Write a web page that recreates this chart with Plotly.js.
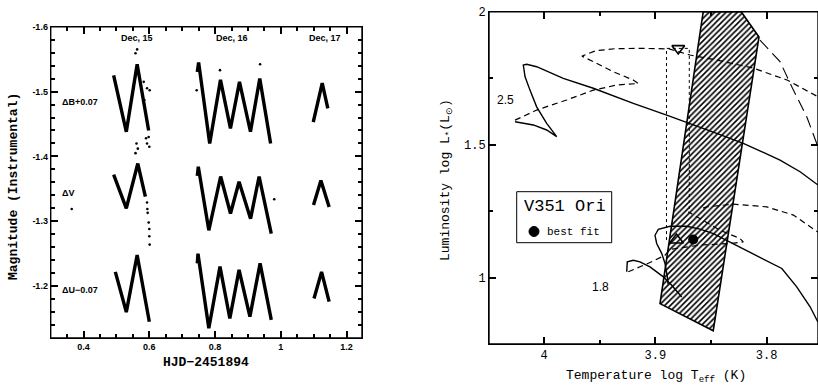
<!DOCTYPE html>
<html>
<head>
<meta charset="utf-8">
<script src="https://cdn.plot.ly/plotly-3.0.1.min.js"></script>
<style>html,body{margin:0;padding:0;background:#fff;}#chart{width:818px;height:387px;}</style>
</head>
<body>
<div id="chart"></div>
<script>
// ---------- Left panel: light curves (HJD-2451894 vs instrumental magnitude) ----------
const bandLabels = ["ΔB+0.07", "ΔV", "ΔU−0.07"];
const bandLabelY = [-1.484, -1.344, -1.194];
const nightLabels = ["Dec, 15", "Dec, 16", "Dec, 17"];
const nightLabelX = [0.563, 0.852, 1.134];
const hjdTicks = [0.4, 0.6, 0.8, 1, 1.2];
const hjdTickText = ["0.4", "0.6", "0.8", "1", "1.2"];
const magTicks = [-1.6, -1.5, -1.4, -1.3, -1.2];
const magTickText = ["-1.6", "-1.5", "-1.4", "-1.3", "-1.2"];

const hjdB = [0.4915, 0.530, 0.563, 0.598, null,
              0.746, 0.750, 0.7837, 0.8165, 0.8468, 0.8743, 0.9077, 0.936, 0.969, null,
              1.0987, 1.126, 1.143];
const magB = [-1.525, -1.438, -1.542, -1.440, null,
              -1.530, -1.545, -1.420, -1.518, -1.443, -1.515, -1.438, -1.520, -1.420, null,
              -1.453, -1.513, -1.474];

const hjdV = [0.4915, 0.530, 0.565, 0.588, null,
              0.746, 0.749, 0.781, 0.817, 0.847, 0.873, 0.908, 0.934, 0.971, null,
              1.0995, 1.122, 1.147];
const magV = [-1.372, -1.320, -1.389, -1.338, null,
              -1.370, -1.384, -1.286, -1.369, -1.312, -1.361, -1.304, -1.369, -1.281, null,
              -1.325, -1.363, -1.322];

const hjdU = [0.4966, 0.530, 0.563, 0.600, null,
              0.746, 0.748, 0.781, 0.815, 0.845, 0.873, 0.906, 0.937, 0.971, null,
              1.101, 1.124, 1.147];
const magU = [-1.222, -1.160, -1.248, -1.145, null,
              -1.235, -1.250, -1.135, -1.230, -1.150, -1.225, -1.153, -1.235, -1.148, null,
              -1.181, -1.222, -1.176];

// stray / scattered observations
const hjdStray = [0.563, 0.558, 0.583, 0.585, 0.593, 0.601, 0.598, 0.590, 0.593, 0.600,
                  0.561, 0.565, 0.558, 0.593, 0.595, 0.598, 0.600, 0.600, 0.601, 0.594,
                  0.364, 0.980, 0.937, 0.815, 0.744];
const magStray = [-1.565, -1.559, -1.515, -1.487, -1.505, -1.502, -1.430, -1.428, -1.420, -1.415,
                  -1.420, -1.412, -1.405, -1.329, -1.313, -1.298, -1.288, -1.277, -1.264, -1.319,
                  -1.319, -1.334, -1.542, -1.533, -1.502];

// ---------- Right panel: HR diagram ----------
const stripT = [3.857, 3.8229, 3.8069, 3.848, 3.8958, 3.857];
const stripL = [2.0, 2.0, 1.905, 0.800, 0.902, 2.0];

const solid25T = [4.026, 4.0096, 3.9976, 3.9886, 3.9976, 4.0066, 4.0126, 4.017, 4.0186, 4.0155, 4.0066,
                  3.9946, 3.9827, 3.9557, 3.9198, 3.8898, 3.8704, 3.8449, 3.821, 3.788, 3.770, 3.7539];
const solid25L = [1.586, 1.574, 1.555, 1.530, 1.580, 1.642, 1.705, 1.755, 1.799, 1.802, 1.793,
                  1.770, 1.749, 1.712, 1.655, 1.611, 1.580, 1.542, 1.505, 1.442, 1.398, 1.348];

const dash25T = [4.026, 4.0066, 3.9796, 3.9557, 3.9347, 3.9153, 3.9198, 3.9378, 3.9557, 3.9659,
                 3.9536, 3.9356, 3.9117, 3.8877, 3.8689, 3.8446, 3.8123, 3.7817, 3.7539];
const dash25L = [1.592, 1.630, 1.668, 1.705, 1.724, 1.730, 1.743, 1.774, 1.812, 1.833,
                 1.853, 1.861, 1.862, 1.860, 1.837, 1.818, 1.788, 1.743, 1.680];

const longDashT = [3.806, 3.788, 3.776, 3.764, 3.7545];
const longDashL = [1.893, 1.812, 1.705, 1.605, 1.498];

const solid18aT = [3.9257, 3.9252, 3.9198, 3.9138, 3.9048, 3.8928, 3.8853, 3.8763];
const solid18aL = [1.0215, 1.059, 1.065, 1.059, 1.040, 1.0025, 0.971, 0.927];

const solid18bT = [3.8886, 3.8892, 3.8913, 3.8943, 3.8988, 3.9003, 3.8973, 3.8868, 3.8718, 3.8599,
                   3.8479, 3.8299, 3.8059, 3.7864, 3.773, 3.761, 3.7539];
const solid18bL = [0.975, 1.0025, 1.053, 1.091, 1.128, 1.159, 1.181, 1.193, 1.193, 1.182,
                   1.165, 1.126, 1.077, 1.034, 0.965, 0.890, 0.832];

const dash18aT = [3.9243, 3.9138, 3.9018, 3.8913, 3.8868, 3.8599, 3.8329, 3.821, 3.824, 3.842, 3.8599, 3.8704];
const dash18aL = [1.0215, 1.040, 1.062, 1.084, 1.106, 1.122, 1.128, 1.134, 1.147, 1.178, 1.222, 1.247];

const dash18bT = [3.8572, 3.8539, 3.8299, 3.800, 3.776, 3.761, 3.754];
const dash18bL = [1.261, 1.266, 1.276, 1.266, 1.235, 1.191, 1.171];

const boxLeftT = [3.890, 3.890, 3.8695, 3.8695];
const boxLeftL = [1.141, 1.862, 1.862, 1.247];

const upperT = [3.8794], upperL = [1.862];
const lowerT = [3.881],  lowerL = [1.141];
const bestT  = [3.866],  bestL  = [1.143];

const massLabels = ["2.5", "1.8"];
const massLabelT = [4.0346, 3.949];
const massLabelL = [1.668, 0.965];
const starName = "V351 Ori";
const bestLabel = "best fit";

// ---------- traces ----------
const lc = (x, y) => ({x, y, xaxis: 'x', yaxis: 'y', mode: 'lines', type: 'scatter',
  line: {color: '#000', width: 3.4}, connectgaps: false});
const tr = (x, y, dash, w) => ({x, y, xaxis: 'x2', yaxis: 'y2', mode: 'lines', type: 'scatter',
  line: {color: '#000', width: w || 1.3, dash: dash}});

const traces = [
  lc(hjdB, magB), lc(hjdV, magV), lc(hjdU, magU),
  {x: hjdStray, y: magStray, xaxis: 'x', yaxis: 'y', mode: 'markers', type: 'scatter',
   marker: {color: '#000', size: 2.6}},
  {x: stripT, y: stripL, xaxis: 'x2', yaxis: 'y2', mode: 'lines', type: 'scatter', fill: 'toself',
   fillcolor: 'rgba(0,0,0,0)',
   fillpattern: {shape: '/', size: 4, solidity: 0.4, fgcolor: '#000', bgcolor: '#fff'},
   line: {color: '#000', width: 1.6}},
  tr(solid25T, solid25L, 'solid', 1.4),
  tr(dash25T, dash25L, '6px,4px', 1.2),
  tr(longDashT, longDashL, '12px,6px', 1.1),
  tr(solid18aT, solid18aL, 'solid', 1.4),
  tr(solid18bT, solid18bL, 'solid', 1.4),
  tr(dash18aT, dash18aL, '6px,4px', 1.2),
  tr(dash18bT, dash18bL, '6px,4px', 1.2),
  tr(boxLeftT, boxLeftL, 'dot', 1),
  {x: upperT, y: upperL, xaxis: 'x2', yaxis: 'y2', mode: 'markers', type: 'scatter',
   marker: {symbol: 'triangle-down-open', size: 11, color: '#000', line: {width: 1.6, color: '#000'}}},
  {x: lowerT, y: lowerL, xaxis: 'x2', yaxis: 'y2', mode: 'markers', type: 'scatter',
   marker: {symbol: 'triangle-up-open', size: 12, color: '#000', line: {width: 1.6, color: '#000'}}},
  {x: bestT, y: bestL, xaxis: 'x2', yaxis: 'y2', mode: 'markers', type: 'scatter', name: bestLabel,
   marker: {symbol: 'circle', size: 10, color: '#000'}}
];

// ---------- annotations ----------
const ann = [];
nightLabels.forEach((t, i) => ann.push({text: '<b>' + t + '</b>', x: nightLabelX[i], y: -1.583, xref: 'x', yref: 'y',
  xanchor: 'center', yanchor: 'middle',
  showarrow: false, font: {family: 'Liberation Sans', size: 9, color: '#000'}}));
bandLabels.forEach((t, i) => ann.push({text: '<b>' + t + '</b>', x: 0.329, y: bandLabelY[i], xref: 'x', yref: 'y',
  xanchor: 'left', yanchor: 'middle', showarrow: false,
  font: {family: 'Liberation Sans', size: 9, color: '#000'}}));
massLabels.forEach((t, i) => ann.push({text: t, x: massLabelT[i], y: massLabelL[i], xref: 'x2', yref: 'y2',
  xanchor: 'center', yanchor: 'middle',
  showarrow: false, font: {family: 'Liberation Sans', size: 12, color: '#000'}}));
// legend box texts
ann.push({text: starName, x: 564.5 / 818, y: 1 - 206 / 387, xref: 'paper', yref: 'paper',
  xanchor: 'center', yanchor: 'middle', showarrow: false,
  font: {family: 'Liberation Mono', size: 17, color: '#000'}});
ann.push({text: bestLabel, x: 545 / 818, y: 1 - 231.5 / 387, xref: 'paper', yref: 'paper',
  xanchor: 'left', yanchor: 'middle', showarrow: false,
  font: {family: 'Liberation Mono', size: 11, color: '#000'}});
// axis titles
ann.push({text: '<b>Magnitude (Instrumental)</b>', x: 13 / 818, y: 1 - 187 / 387, xref: 'paper', yref: 'paper',
  xanchor: 'center', yanchor: 'middle',
  textangle: -90, showarrow: false, font: {family: 'Liberation Mono', size: 13, color: '#000'}});
ann.push({text: '<b>HJD−2451894</b>', x: 206 / 818, y: 1 - 362 / 387, xref: 'paper', yref: 'paper',
  xanchor: 'center', yanchor: 'middle',
  showarrow: false, font: {family: 'Liberation Mono', size: 13, color: '#000'}});
ann.push({text: 'Temperature log T<sub>eff</sub> (K)', x: 656 / 818, y: 1 - 376 / 387, xref: 'paper', yref: 'paper',
  xanchor: 'center', yanchor: 'middle',
  showarrow: false, font: {family: 'Liberation Mono', size: 13, color: '#000'}});
ann.push({text: 'Luminosity log L<sub>*</sub>(L<sub>⊙</sub>)', x: 447 / 818, y: 1 - 180 / 387, xref: 'paper', yref: 'paper',
  xanchor: 'center', yanchor: 'middle',
  textangle: -90, showarrow: false, font: {family: 'Liberation Mono', size: 13, color: '#000'}});

// panel frames and the legend box
const frame = (xr, yr) => ({type: 'rect', xref: xr + ' domain', yref: yr + ' domain', x0: 0, x1: 1, y0: 0, y1: 1,
  line: {color: '#000', width: 1.4}, fillcolor: 'rgba(0,0,0,0)', layer: 'above'});
const shapes = [frame('x', 'y'), frame('x2', 'y2'),
  {type: 'rect', xref: 'paper', yref: 'paper', x0: 516.7 / 818, x1: 611.7 / 818, y0: 1 - 242.7 / 387, y1: 1 - 191.7 / 387,
   line: {color: '#000', width: 1}, fillcolor: '#fff', layer: 'above'},
  {type: 'circle', xref: 'paper', yref: 'paper', x0: 529 / 818, x1: 539 / 818, y0: 1 - 236.5 / 387, y1: 1 - 226.5 / 387,
   line: {color: '#000', width: 1}, fillcolor: '#000', layer: 'above'}];

const axBase = {showline: true, linecolor: 'black', ticks: 'inside', ticklen: 7, tickwidth: 2,
  tickcolor: 'black', mirror: 'ticks', showgrid: false, zeroline: false};

const layout = {
  width: 818, height: 387,
  margin: {l: 0, r: 0, t: 0, b: 0},
  showlegend: false,
  hovermode: false,
  xaxis: Object.assign({}, axBase, {domain: [50.7 / 818, 362 / 818], anchor: 'y', range: [0.3, 1.247],
    tickvals: hjdTicks, ticktext: hjdTickText.map(t => '<b>' + t + '</b>'),
    minor: {ticks: 'inside', ticklen: 4, tickcolor: 'black', dtick: 0.05, tick0: 0},
    tickfont: {family: 'Liberation Sans', size: 9, color: '#000'}}),
  yaxis: Object.assign({}, axBase, {domain: [1 - 338 / 387, 1 - 26.7 / 387], anchor: 'x', range: [-1.12, -1.6],
    tickvals: magTicks, ticktext: magTickText.map(t => '<b>' + t + '</b>'),
    minor: {ticks: 'inside', ticklen: 4, tickcolor: 'black', dtick: 0.02, tick0: 0},
    tickfont: {family: 'Liberation Sans', size: 9, color: '#000'}}),
  xaxis2: Object.assign({}, axBase, {domain: [489 / 818, 1], anchor: 'y2', range: [4.0494, 3.7539],
    dtick: 0.1, minor: {ticks: 'inside', ticklen: 4, tickcolor: 'black', dtick: 0.05},
    tickfont: {family: 'Liberation Mono', size: 12, color: '#000'}}),
  yaxis2: Object.assign({}, axBase, {domain: [1 - 344 / 387, 1 - 11.7 / 387], anchor: 'x2', range: [0.75, 2],
    dtick: 0.5, minor: {ticks: 'inside', ticklen: 4, tickcolor: 'black', dtick: 0.25},
    tickfont: {family: 'Liberation Mono', size: 12, color: '#000'}}),
  shapes: shapes,
  annotations: ann
};

Plotly.newPlot('chart', traces, layout, {staticPlot: true, displayModeBar: false});
</script>
</body>
</html>
